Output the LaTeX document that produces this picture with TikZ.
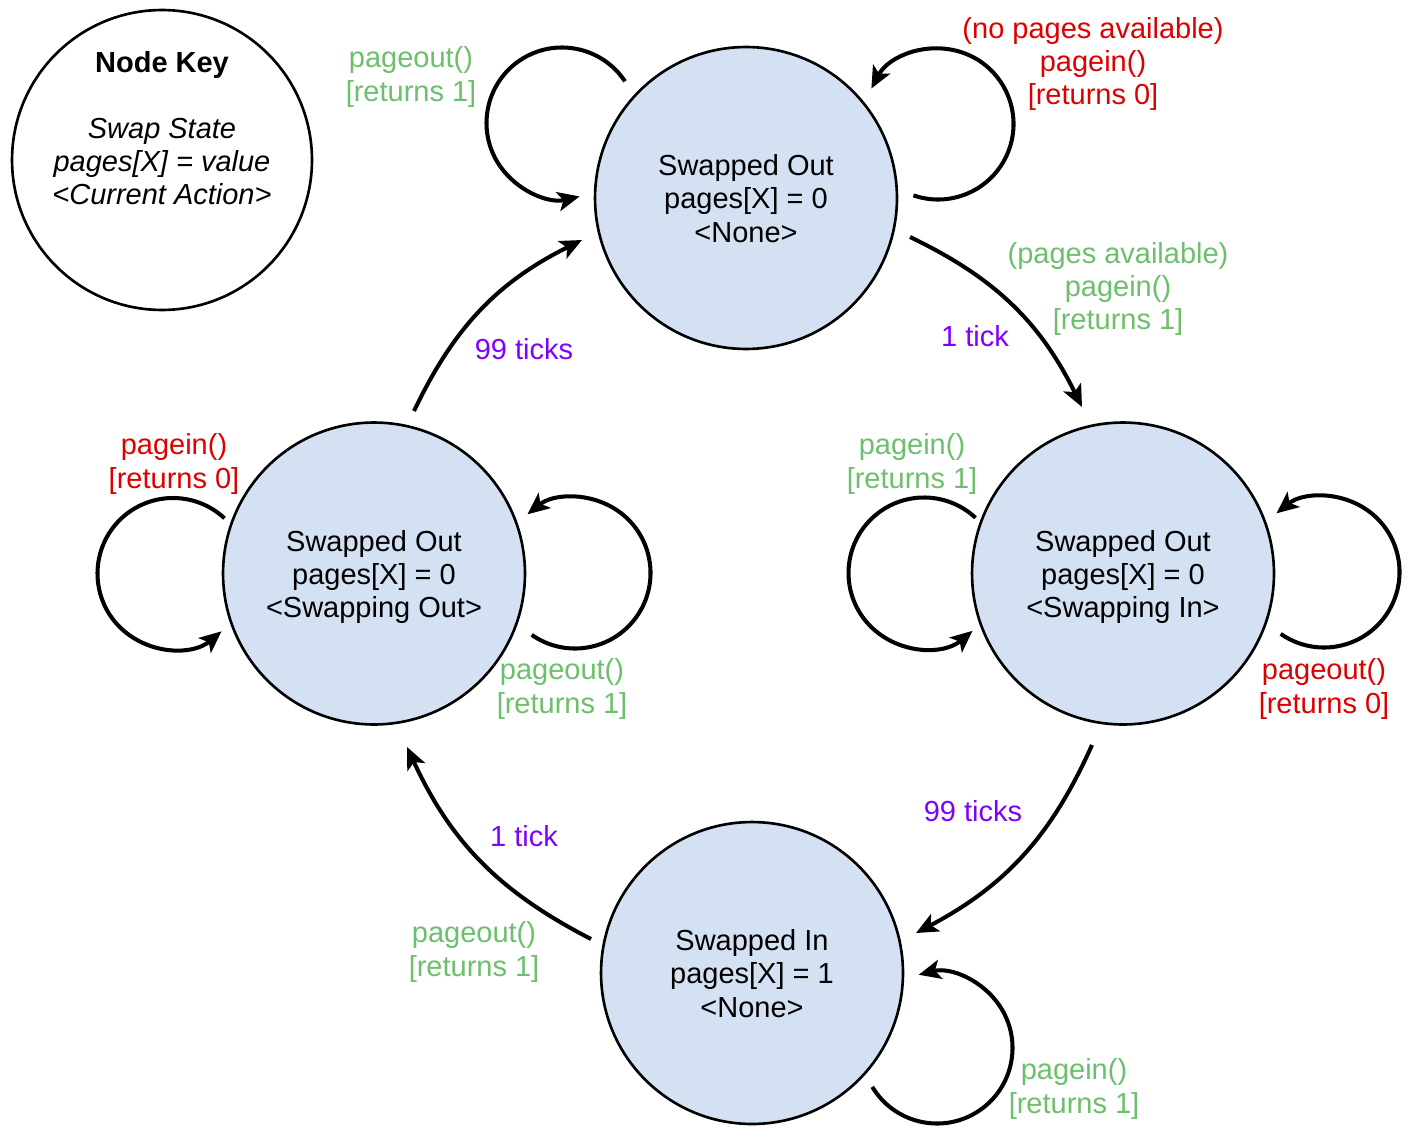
\documentclass[tikz,border=0pt]{standalone}
\usepackage{fontspec}
\setmainfont{Liberation Sans}
\usetikzlibrary{arrows.meta}
\definecolor{nodefill}{HTML}{D4E1F2}
\definecolor{lgreen}{HTML}{6CBF6C}
\definecolor{lred}{HTML}{DD0000}
\definecolor{lpurple}{HTML}{8000FF}
\newcommand{\selfloop}[3]{\draw[conn] (#1) ++(#2:75.5) arc[start angle=#2,end angle=#3,radius=75.5];}
\newcommand{\topstrut}{\rule{0pt}{16pt}}
\newcommand{\botstrut}{\rule[-3.5pt]{0pt}{3.5pt}}
\begin{document}
\begin{tikzpicture}[x=0.02cm,y=0.02cm,
  txt/.style={align=center,inner sep=0pt,font=\fontsize{16.5}{18.8}\selectfont},
  stnode/.style={circle,draw=black,line width=1.5pt,fill=nodefill,minimum size=6.04cm,inner sep=0pt,txt},
  keynode/.style={circle,draw=black,line width=1.5pt,fill=white,minimum size=6.0cm,inner sep=0pt},
  conn/.style={line width=2.3pt,-{Stealth[length=12.5pt,width=11pt,inset=3pt]}},
  glab/.style={txt,text=lgreen,yshift=-0.04cm},
  rlab/.style={txt,text=lred,yshift=-0.04cm},
  plab/.style={txt,text=lpurple}]
\useasboundingbox (0,0) rectangle (1422,-1135);

% key
\node[keynode] (key) at (162,-160) {};
\node[txt] (keytext) at (162,-128) {\textbf{Node Key}\\[18.8pt]\textit{Swap State}\\\textit{pages[X] = value}\\\textit{<Current Action>}};

% states
\node[stnode] (ntop) at (746,-198) {\topstrut Swapped Out\\pages[X] = 0\\<None>\botstrut};
\node[stnode] (nleft) at (374,-573.5) {\topstrut Swapped Out\\pages[X] = 0\\<Swapping Out>\botstrut};
\node[stnode] (nright) at (1123,-573.5) {\topstrut Swapped Out\\pages[X] = 0\\<Swapping In>\botstrut};
\node[stnode] (nbot) at (752,-973) {\topstrut Swapped In\\pages[X] = 1\\<None>\botstrut};

% transitions
\coordinate (a1) at (910,-237); \coordinate (a2) at (1082,-407);
\coordinate (b1) at (1092,-745); \coordinate (b2) at (916,-933);
\coordinate (c1) at (591,-939); \coordinate (c2) at (407,-747);
\coordinate (d1) at (414,-411); \coordinate (d2) at (582,-240);
\draw[conn] (a1) to[bend left=19] (a2);
\draw[conn] (b1) to[bend left=19] (b2);
\draw[conn] (c1) to[bend left=19] (c2);
\draw[conn] (d1) to[bend left=19] (d2);

% self loops
\coordinate (l1) at (562,-123);
\coordinate (l2) at (938,-124);
\coordinate (l3) at (173,-573.5);
\coordinate (l4) at (575,-573);
\coordinate (l5) at (924,-573);
\coordinate (l6) at (1324,-572);
\coordinate (l7) at (937,-1048);
\selfloop{l1}{33.5}{283.5}
\selfloop{l2}{-109}{152}
\selfloop{l3}{47}{310}
\selfloop{l4}{-125}{129}
\selfloop{l5}{47}{310}
\selfloop{l6}{-125}{129}
\selfloop{l7}{-149}{104}

% labels
\node[glab] (gl1) at (411,-75) {pageout()\\\relax[returns 1]};
\node[rlab] (rl1) at (1093,-62) {(no pages available)\\pagein()\\\relax[returns 0]};
\node[glab] (gl2) at (1118,-287) {(pages available)\\pagein()\\\relax[returns 1]};
\node[plab] (pl1) at (975,-336) {1 tick};
\node[plab] (pl2) at (524,-349) {99 ticks};
\node[rlab] (rl2) at (174,-462) {pagein()\\\relax[returns 0]};
\node[glab] (gl3) at (912,-462) {pagein()\\\relax[returns 1]};
\node[glab] (gl4) at (562,-687) {pageout()\\\relax[returns 1]};
\node[rlab] (rl3) at (1324,-687) {pageout()\\\relax[returns 0]};
\node[plab] (pl3) at (973,-811) {99 ticks};
\node[plab] (pl4) at (524,-836) {1 tick};
\node[glab] (gl5) at (474,-950) {pageout()\\\relax[returns 1]};
\node[glab] (gl6) at (1074,-1087) {pagein()\\\relax[returns 1]};
\end{tikzpicture}
\end{document}
